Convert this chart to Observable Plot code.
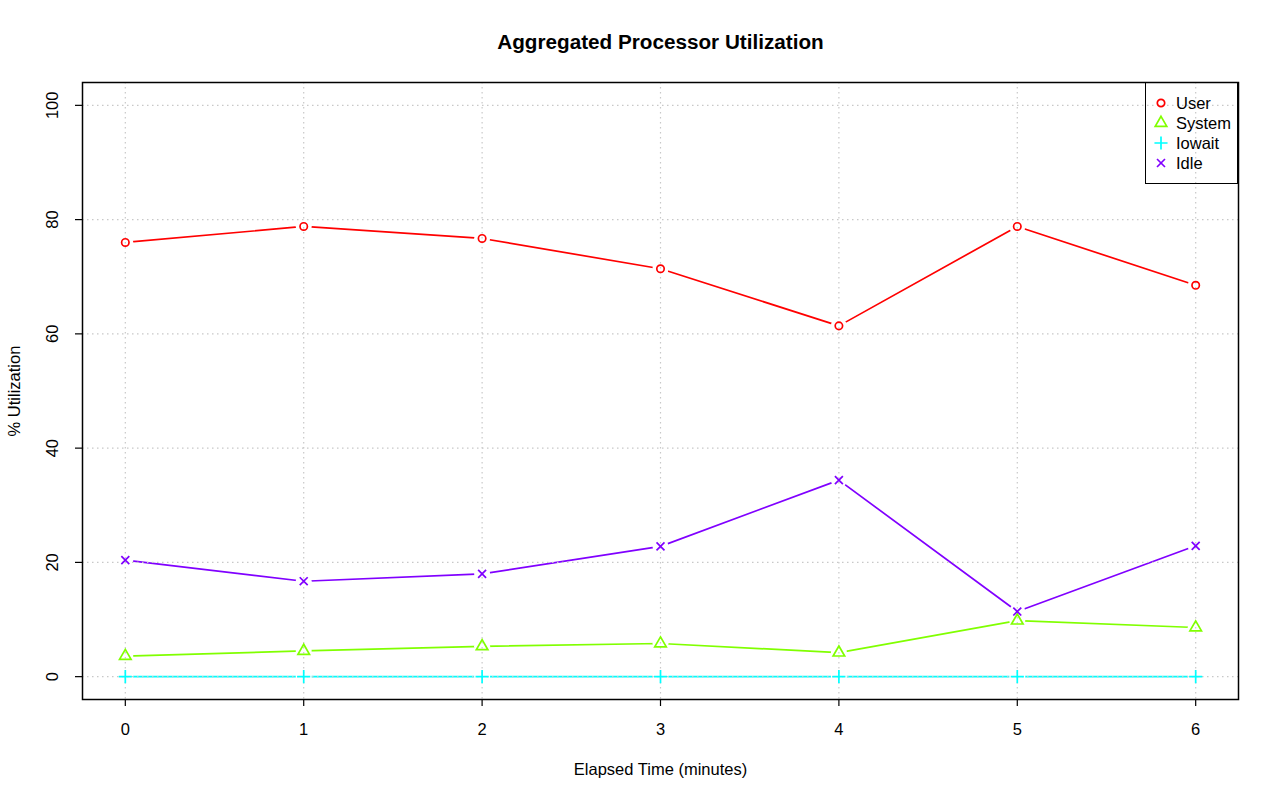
<!DOCTYPE html>
<html>
<head>
<meta charset="utf-8">
<script src="https://cdn.jsdelivr.net/npm/d3@7"></script>
<script src="https://cdn.jsdelivr.net/npm/@observablehq/plot@0.6"></script>
<style>
  body { margin: 0; background: #fff; font-family: "Liberation Sans", Arial, sans-serif; }
  #wrap { position: relative; width: 1280px; height: 801px; }
  #legend { position: absolute; left: 1145px; top: 82px; width: 93px; height: 102px;
            box-sizing: border-box; border: 1.5px solid #000; }
  #legend .row { position: absolute; left: 0; height: 20px; display: flex; align-items: center;
                 font-size: 16.5px; color: #000; }
  #legend svg { display: block; }
</style>
</head>
<body>
<div id="wrap"></div>
<script>
// ---- data ----
const minutes = [0, 1, 2, 3, 4, 5, 6];
const seriesNames = ["User", "System", "Iowait", "Idle"];
const user   = [76.0, 78.8, 76.7, 71.4, 61.4, 78.8, 68.5];
const system = [3.6, 4.5, 5.3, 5.8, 4.2, 9.8, 8.6];
const iowait = [0, 0, 0, 0, 0, 0, 0];
const idle   = [20.4, 16.7, 18.0, 22.8, 34.4, 11.4, 22.9];
const xTicks = [0, 1, 2, 3, 4, 5, 6];
const yTicks = [0, 20, 40, 60, 80, 100];
const titleText = "Aggregated Processor Utilization";
const xLabel = "Elapsed Time (minutes)";
const yLabel = "% Utilization";

// ---- styles ----
const colors = ["#FF0000", "#80FF00", "#00FFFF", "#8000FF"];
const symbolNames = ["circle", "triangle", "plus", "times"];
const d3Symbols = [d3.symbolCircle, d3.symbolTriangle, d3.symbolPlus, d3.symbolTimes];
const symR = [3.7, 4.3, 4.3, 3.7];
const FONT = "Liberation Sans, Arial, sans-serif";
const FS = 16.5;

const values = [user, system, iowait, idle];
const rows = seriesNames.flatMap((s, i) => minutes.map((m, j) => ({series: s, minute: m, value: values[i][j]})));
const bySeries = s => rows.filter(d => d.series === s);

const marks = [];
// lines with gaps (white halos)
seriesNames.forEach((s, i) => {
  marks.push(Plot.line(bySeries(s), {x: "minute", y: "value", stroke: colors[i], strokeWidth: 1.7}));
  marks.push(Plot.dot(bySeries(s), {x: "minute", y: "value", r: 8, fill: "white", stroke: "none"}));
});
// grid
marks.push(Plot.ruleX(xTicks, {x: d => d, stroke: "#C8C8C8", strokeDasharray: "1.5,3.5", strokeWidth: 1.2}));
marks.push(Plot.ruleY(yTicks, {y: d => d, stroke: "#C8C8C8", strokeDasharray: "1.5,3.5", strokeWidth: 1.2}));
// symbols
seriesNames.forEach((s, i) => {
  marks.push(Plot.dot(bySeries(s), {x: "minute", y: "value", symbol: symbolNames[i], r: symR[i],
    fill: "none", stroke: colors[i], strokeWidth: 1.7}));
});
// frame & ticks
marks.push(Plot.frame({stroke: "black", strokeWidth: 1.5}));
marks.push(Plot.axisX({ticks: xTicks, tickSize: 7, tickFormat: () => "", stroke: "black", strokeWidth: 1.2, label: null}));
marks.push(Plot.axisY({ticks: yTicks, tickSize: 7, tickFormat: () => "", stroke: "black", strokeWidth: 1.2, label: null}));
// tick labels
marks.push(Plot.text(xTicks, {x: d => d, text: d => String(d), frameAnchor: "bottom", dy: 30,
  lineAnchor: "middle", fontSize: FS, fill: "black"}));
marks.push(Plot.text(yTicks, {y: d => d, text: d => String(d), frameAnchor: "left", dx: -30, rotate: -90,
  textAnchor: "middle", lineAnchor: "middle", fontSize: FS, fill: "black"}));
// axis titles & title
marks.push(Plot.text([xLabel], {text: d => d, frameAnchor: "bottom", dy: 70, lineAnchor: "middle",
  fontSize: FS, fill: "black"}));
marks.push(Plot.text([yLabel], {text: d => d, frameAnchor: "left", dx: -68, rotate: -90,
  textAnchor: "middle", lineAnchor: "middle", fontSize: FS, fill: "black"}));
marks.push(Plot.text([titleText], {text: d => d, frameAnchor: "top", dy: -40, lineAnchor: "middle",
  fontSize: 20.7, fontWeight: "bold", fill: "black"}));

const chart = Plot.plot({
  width: 1280,
  height: 801,
  marginLeft: 82,
  marginRight: 42,
  marginTop: 82,
  marginBottom: 102,
  style: {fontFamily: FONT, fontSize: FS + "px", background: "white", overflow: "visible"},
  x: {domain: [-0.24, 6.24], axis: null},
  y: {domain: [-4, 104], axis: null},
  marks
});
const wrap = document.getElementById("wrap");
wrap.appendChild(chart);

// legend
const legend = document.createElement("div");
legend.id = "legend";
seriesNames.forEach((s, i) => {
  const row = document.createElement("div");
  row.className = "row";
  row.style.top = (10 + i * 20) + "px";
  const sz = 20;
  const svg = d3.create("svg").attr("width", 30).attr("height", sz);
  svg.append("path")
    .attr("transform", `translate(15,${sz / 2})`)
    .attr("d", d3.symbol(d3Symbols[i], Math.PI * symR[i] * symR[i])())
    .attr("fill", "none").attr("stroke", colors[i]).attr("stroke-width", 1.7);
  row.appendChild(svg.node());
  const span = document.createElement("span");
  span.textContent = s;
  row.appendChild(span);
  legend.appendChild(row);
});
wrap.appendChild(legend);
</script>
</body>
</html>
